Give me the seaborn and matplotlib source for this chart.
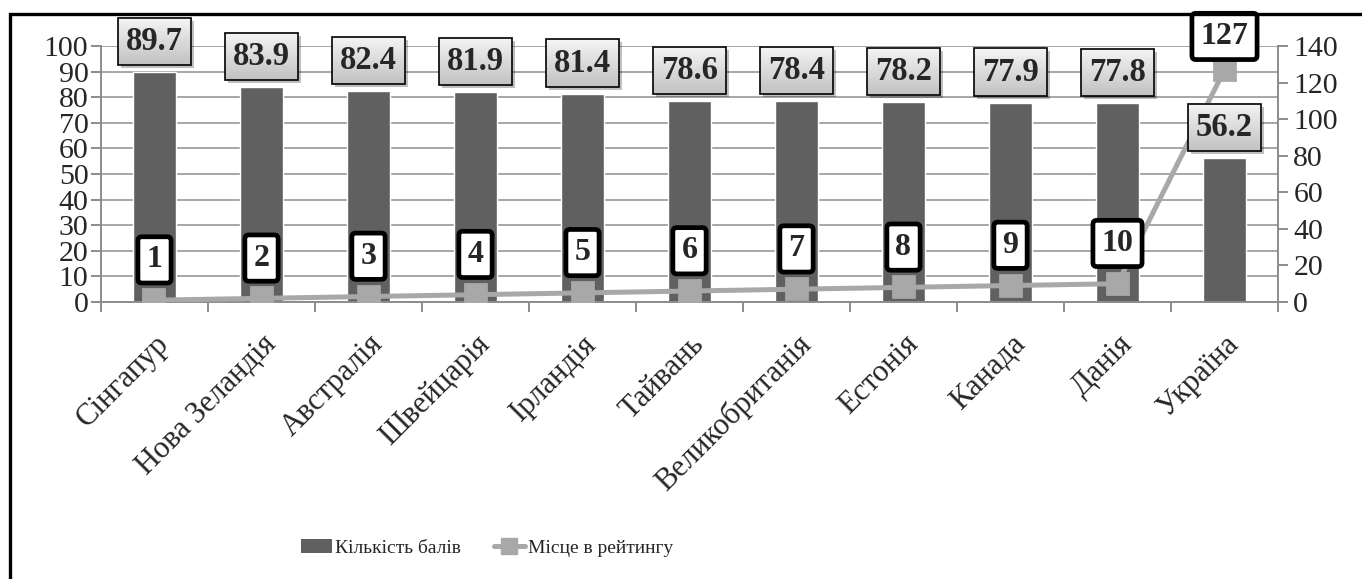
import numpy as np
import pandas as pd
import seaborn as sns
import matplotlib
matplotlib.use("Agg")
import matplotlib.pyplot as plt
from matplotlib.patches import Patch, Rectangle
from matplotlib.lines import Line2D
from matplotlib.image import BboxImage
from matplotlib.transforms import IdentityTransform, Bbox

countries = ["Сінгапур", "Нова Зеландія", "Австралія", "Швейцарія", "Ірландія",
             "Тайвань", "Великобританія", "Естонія", "Канада", "Данія", "Україна"]
scores = [89.7, 83.9, 82.4, 81.9, 81.4, 78.6, 78.4, 78.2, 77.9, 77.8, 56.2]
ranks = [1, 2, 3, 4, 5, 6, 7, 8, 9, 10, 127]
rank_labels = ["1", "2", "3", "4", "5", "6", "7", "8", "9", "10", "127"]

bar_color = "#606060"
line_color = "#a8a8a8"
axis_gray = "#8c8c8c"

sns.set_style("white")
plt.rcParams["font.family"] = "serif"
plt.rcParams["font.serif"] = ["Liberation Serif", "DejaVu Serif"]

df = pd.DataFrame({"country": countries, "score": scores, "rank": ranks})

fig = plt.figure(figsize=(13.62, 5.79), dpi=100)
ax = fig.add_axes([101 / 1362, 1 - 302 / 579, (1278 - 101) / 1362, (302 - 46) / 579])
ax2 = ax.twinx()

sns.barplot(data=df, x="country", y="score", color=bar_color, width=0.4,
            saturation=1, ax=ax, zorder=2)
sns.pointplot(data=df, x="country", y="rank", color=line_color, markers="s",
              markersize=14, linewidth=3.6, ax=ax2)

ax.set_ylim(0, 100)
ax2.set_ylim(0, 140)
ax.set_xlim(-0.5, len(countries) - 0.5)
ax.set_yticks(np.arange(0, 101, 10))
ax2.set_yticks(np.arange(0, 141, 20))
ax.set_xlabel("")
ax.set_ylabel("")
ax2.set_ylabel("")

ax.yaxis.grid(True, color="#a6a6a6", linewidth=1.4, zorder=0)
ax.set_axisbelow(True)
ax2.grid(False)

for a in (ax, ax2):
    for s in a.spines.values():
        s.set_visible(False)
ax.spines["left"].set_visible(True)
ax.spines["bottom"].set_visible(True)
ax2.spines["right"].set_visible(True)
for s in (ax.spines["left"], ax.spines["bottom"], ax2.spines["right"]):
    s.set_color(axis_gray)
    s.set_linewidth(1.4)

ax.tick_params(axis="y", which="major", direction="out", length=7, width=1.4,
               color=axis_gray, labelsize=21.5, pad=2, left=True)
ax2.tick_params(axis="y", which="major", direction="out", length=7, width=1.4,
                color=axis_gray, labelsize=21.5, pad=4, right=True)

# category labels at centres, tick marks at category boundaries
ax.set_xticks(np.arange(len(countries)))
ax.set_xticklabels(countries, rotation=45, ha="right", va="top",
                   rotation_mode="anchor", fontsize=22)
ax.set_xticks(np.arange(len(countries) + 1) - 0.5, minor=True)
ax.tick_params(axis="x", which="major", length=0, pad=20)
ax.tick_params(axis="x", which="minor", direction="out", length=7, width=1.4,
               color=axis_gray, bottom=True)
ax2.tick_params(axis="x", which="both", length=0)

# value labels above bars (frame only, gradient fill added below)
value_texts = []
for i, v in enumerate(scores):
    t = ax2.annotate(f"{v:.1f}", xy=(i, v), xycoords=ax.transData,
                     xytext=(0, 22), textcoords="offset points",
                     ha="center", va="center", fontsize=23.5, fontweight="bold",
                     zorder=6,
                     bbox=dict(boxstyle="square,pad=0.25", facecolor="none",
                               edgecolor="black", linewidth=1.2))
    value_texts.append(t)

# rank labels above markers (kept inside the chart frame at the top)
for i, (r, lab) in enumerate(zip(ranks, rank_labels)):
    off = 29 if r < 100 else 24
    ax2.annotate(lab, xy=(i, r), xycoords="data",
                 xytext=(0, off), textcoords="offset points",
                 ha="center", va="center", fontsize=23, fontweight="bold",
                 zorder=7,
                 bbox=dict(boxstyle="round,pad=0.27,rounding_size=0.12",
                           facecolor="white", edgecolor="black", linewidth=3.4))

handles = [Patch(facecolor=bar_color, edgecolor="none"),
           Line2D([0], [0], color=line_color, lw=3.6, marker="s", markersize=12)]
fig.legend(handles, ["Кількість балів", "Місце в рейтингу"], loc="center",
           bbox_to_anchor=(487 / 1362, 1 - 548 / 579), ncol=2, frameon=False,
           fontsize=14, handlelength=1.6, handletextpad=0.15, columnspacing=1.7)

# outer chart border (left and top edges visible)
fig.patches.append(Rectangle((9.5 / 1362, -0.1), 1.2, 1.1 - 14.5 / 579,
                             transform=fig.transFigure, fill=False,
                             edgecolor="black", linewidth=2.4, zorder=10))

# gradient fill + soft shadow behind the value label frames
fig.canvas.draw()
renderer = fig.canvas.get_renderer()
grad = np.linspace(0.96, 0.76, 64).reshape(-1, 1)
grad = np.repeat(grad[:, :, None], 3, axis=2)
for t in value_texts:
    bb = t.get_bbox_patch().get_window_extent(renderer)
    sh = Rectangle((bb.x0 + 3, bb.y0 - 3), bb.width, bb.height, transform=IdentityTransform(),
                   facecolor="black", alpha=0.25, edgecolor="none", zorder=5.4, clip_on=False)
    ax2.add_artist(sh)
    img = BboxImage(Bbox.from_extents(bb.x0, bb.y0, bb.x1, bb.y1), interpolation="bilinear",
                    zorder=5.5)
    img.set_data(grad)
    img.set_clip_on(False)
    ax2.add_artist(img)

fig.savefig("out.png", dpi=100)
